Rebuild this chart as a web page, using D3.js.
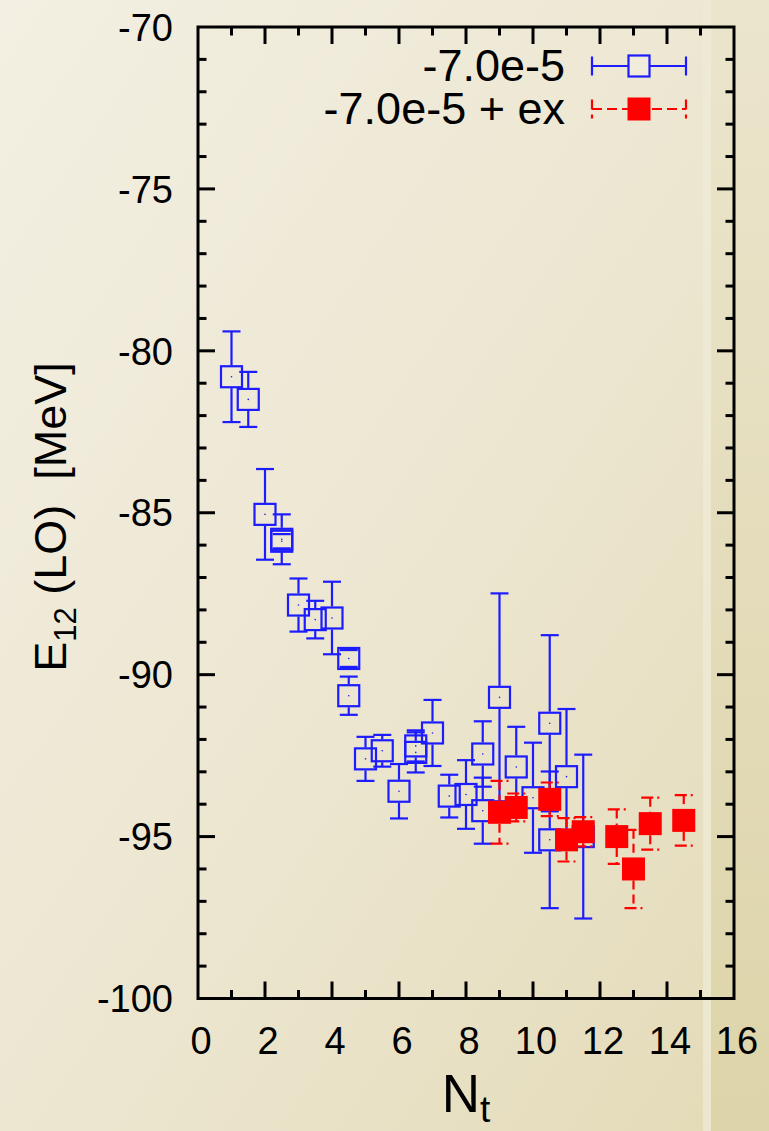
<!DOCTYPE html>
<html>
<head>
<meta charset="utf-8">
<script src="https://cdn.jsdelivr.net/npm/d3@7"></script>
<style>
  html, body { margin: 0; padding: 0; }
  body { width: 769px; height: 1131px; overflow: hidden; }
  svg { display: block; }
  text { font-family: "Liberation Sans", Arial, Helvetica, sans-serif; fill: #000; }
</style>
</head>
<body>
<svg id="chart" width="769" height="1131"></svg>
<script>
// Energy E12 (LO) versus N_t, coupling -7.0e-5, with and without the "ex" correction
const blueN   = [1, 1.5, 2, 2.5, 2.5, 3, 3.5, 4, 4.5, 4.5, 5, 5.5, 6, 6.5, 6.5, 7, 7.5, 8, 8.5, 8.5, 9, 9.5, 10, 10.5, 10.5, 11, 11.5];
const blueE   = [-80.8, -81.5, -85.05, -85.82, -85.88, -87.85, -88.3, -88.25, -89.5, -90.65, -92.6, -92.35, -93.6, -92.2, -92.4, -91.8, -93.75, -93.7, -92.45, -94.2, -90.7, -92.85, -93.8, -91.5, -95.1, -93.15, -95.0];
const blueErr = [1.4, 0.85, 1.4, 0.77, 0.22, 0.82, 0.58, 1.12, 0.26, 0.59, 0.68, 0.49, 0.84, 0.48, 0.62, 1.02, 0.66, 1.06, 1.01, 1.02, 3.21, 1.24, 1.7, 2.72, 2.11, 2.09, 2.53];

const redN    = [9, 9.5, 10.5, 11, 11.5, 12.5, 13, 13.5, 14.5];
const redE    = [-94.25, -94.1, -93.85, -95.1, -94.85, -95.0, -96.0, -94.6, -94.5];
const redErr  = [0.97, 0.43, 0.52, 0.67, 0.45, 0.84, 1.21, 0.8, 0.78];

const xTickValues = [0, 2, 4, 6, 8, 10, 12, 14, 16];
const yTickValues = [-70, -75, -80, -85, -90, -95, -100];
const seriesLabels = ["-7.0e-5", "-7.0e-5 + ex"];

const BLUE = "#1c1cff";
const RED = "#ff0000";

const svg = d3.select("#chart");
const W = 769, H = 1131;

// Page background: warm parchment gradient
const defs = svg.append("defs");
const bg = defs.append("linearGradient").attr("id", "bg")
  .attr("x1", "0").attr("y1", "0").attr("x2", "1").attr("y2", "1");
bg.append("stop").attr("offset", "0").attr("stop-color", "#f3efe2");
bg.append("stop").attr("offset", "0.55").attr("stop-color", "#ece6d0");
bg.append("stop").attr("offset", "1").attr("stop-color", "#e3dab6");
const edge = defs.append("linearGradient").attr("id", "edge")
  .attr("x1", "0").attr("y1", "0").attr("x2", "0").attr("y2", "1");
edge.append("stop").attr("offset", "0").attr("stop-color", "#ebe5cd");
edge.append("stop").attr("offset", "1").attr("stop-color", "#ddd4a9");

svg.append("rect").attr("width", W).attr("height", H).attr("fill", "url(#bg)");
svg.append("rect").attr("x", 711).attr("y", 0).attr("width", W - 711).attr("height", H).attr("fill", "url(#edge)");
svg.append("rect").attr("x", 703).attr("y", 0).attr("width", 8).attr("height", H).attr("fill", "#f0ebd7").attr("opacity", 0.7);

// Plot frame
const x0 = 198, x1 = 734, y0 = 27, y1 = 998.5;
const x = d3.scaleLinear().domain([0, 16]).range([x0, x1]);
const y = d3.scaleLinear().domain([-100, -70]).range([y1, y0]);

const plot = svg.append("g");

// Error bars: vertical stems leave a gap where the marker sits
const HALF = 11.5;   // marker half-size
const CAP = 9;       // cap half-width

function errorBars(g, xs, ys, es, color, dashed) {
  const data = xs.map((d, i) => ({ n: d, e: ys[i], s: es[i] }));
  const grp = g.append("g").attr("stroke", color).attr("stroke-width", 2.2).attr("fill", "none");
  data.forEach(d => {
    const cx = x(d.n), cy = y(d.e), top = y(d.e + d.s), bot = y(d.e - d.s);
    const stemDash = dashed ? "9,5" : null;
    const capDash = dashed ? "12,4,2,4" : null;
    if (top < cy - HALF) {
      grp.append("line").attr("x1", cx).attr("x2", cx).attr("y1", top).attr("y2", cy - HALF).attr("stroke-dasharray", stemDash);
    }
    if (bot > cy + HALF) {
      grp.append("line").attr("x1", cx).attr("x2", cx).attr("y1", cy + HALF).attr("y2", bot).attr("stroke-dasharray", stemDash);
    }
    grp.append("line").attr("x1", cx - CAP).attr("x2", cx + CAP).attr("y1", top).attr("y2", top).attr("stroke-dasharray", capDash);
    grp.append("line").attr("x1", cx - CAP).attr("x2", cx + CAP).attr("y1", bot).attr("y2", bot).attr("stroke-dasharray", capDash);
  });
}

errorBars(plot, blueN, blueE, blueErr, BLUE, false);
plot.append("g").selectAll("rect").data(blueN.map((d, i) => [d, blueE[i]])).join("rect")
  .attr("x", d => x(d[0]) - HALF + 1).attr("y", d => y(d[1]) - HALF + 1)
  .attr("width", 2 * HALF - 2).attr("height", 2 * HALF - 2)
  .attr("fill", "none").attr("stroke", BLUE).attr("stroke-width", 2.2);
plot.append("g").selectAll("circle").data(blueN.map((d, i) => [d, blueE[i]])).join("circle")
  .attr("cx", d => x(d[0])).attr("cy", d => y(d[1])).attr("r", 0.8).attr("fill", BLUE);

errorBars(plot, redN, redE, redErr, RED, true);
plot.append("g").selectAll("rect").data(redN.map((d, i) => [d, redE[i]])).join("rect")
  .attr("x", d => x(d[0]) - HALF).attr("y", d => y(d[1]) - HALF)
  .attr("width", 2 * HALF).attr("height", 2 * HALF)
  .attr("fill", RED);

// Axes with inward ticks on all four sides
const MAJ = 17, MIN = 8.5;
const axes = svg.append("g").attr("stroke", "#000").attr("stroke-width", 3);
const xMinor = d3.range(1, 16);
const yMinor = d3.range(-99, -70);
xMinor.forEach(v => {
  const len = v % 2 === 0 ? MAJ : MIN;
  axes.append("line").attr("x1", x(v)).attr("x2", x(v)).attr("y1", y1).attr("y2", y1 - len);
  axes.append("line").attr("x1", x(v)).attr("x2", x(v)).attr("y1", y0).attr("y2", y0 + len);
});
yMinor.forEach(v => {
  const len = v % 5 === 0 ? MAJ : MIN;
  axes.append("line").attr("x1", x0).attr("x2", x0 + len).attr("y1", y(v)).attr("y2", y(v));
  axes.append("line").attr("x1", x1).attr("x2", x1 - len).attr("y1", y(v)).attr("y2", y(v));
});
axes.append("rect").attr("x", x0).attr("y", y0).attr("width", x1 - x0).attr("height", y1 - y0)
  .attr("fill", "none").attr("stroke-linejoin", "miter");

// Tick labels
svg.append("g").selectAll("text").data(xTickValues).join("text")
  .attr("x", d => x(d) + 3).attr("y", 1054)
  .attr("text-anchor", "middle").attr("font-size", 38)
  .text(d => d);
svg.append("g").selectAll("text").data(yTickValues).join("text")
  .attr("x", 173).attr("y", d => y(d)).attr("dy", "0.36em")
  .attr("text-anchor", "end").attr("font-size", 38)
  .text(d => d);

// Axis titles
const xt = svg.append("text").attr("x", 466).attr("y", 1112).attr("text-anchor", "middle").attr("font-size", 53);
xt.append("tspan").text("N");
xt.append("tspan").attr("font-size", 37).attr("dy", 10).text("t");

const yt = svg.append("text").attr("transform", "translate(66,517) rotate(-90)")
  .attr("text-anchor", "middle").attr("font-size", 45);
yt.append("tspan").text("E");
yt.append("tspan").attr("font-size", 31).attr("dy", 10).text("12");
yt.append("tspan").attr("dy", -10).text("\u00a0(LO)\u00a0\u00a0[MeV]");

// Legend
const lg = svg.append("g");
const legRows = [
  { label: seriesLabels[0], color: BLUE, filled: false, dashed: false, cy: 66 },
  { label: seriesLabels[1], color: RED, filled: true, dashed: true, cy: 109 }
];
const lx0 = 592, lx1 = 686, lcx = 639;
legRows.forEach(r => {
  lg.append("text").attr("x", 565).attr("y", r.cy).attr("dy", "0.34em")
    .attr("text-anchor", "end").attr("font-size", 45).text(r.label);
  const g = lg.append("g").attr("stroke", r.color).attr("stroke-width", 2.2)
    .attr("stroke-dasharray", r.dashed ? "10,5" : null);
  g.append("line").attr("x1", lx0).attr("x2", lx1).attr("y1", r.cy).attr("y2", r.cy);
  g.append("line").attr("x1", lx0).attr("x2", lx0).attr("y1", r.cy - 9.5).attr("y2", r.cy + 9.5);
  g.append("line").attr("x1", lx1).attr("x2", lx1).attr("y1", r.cy - 9.5).attr("y2", r.cy + 9.5);
  if (r.filled) {
    lg.append("rect").attr("x", lcx - HALF).attr("y", r.cy - HALF).attr("width", 2 * HALF).attr("height", 2 * HALF).attr("fill", r.color);
  } else {
    lg.append("rect").attr("x", lcx - HALF + 1).attr("y", r.cy - HALF + 1).attr("width", 2 * HALF - 2).attr("height", 2 * HALF - 2)
      .attr("fill", "#f1ecdc").attr("stroke", r.color).attr("stroke-width", 2.2);
  }
});
</script>
</body>
</html>
